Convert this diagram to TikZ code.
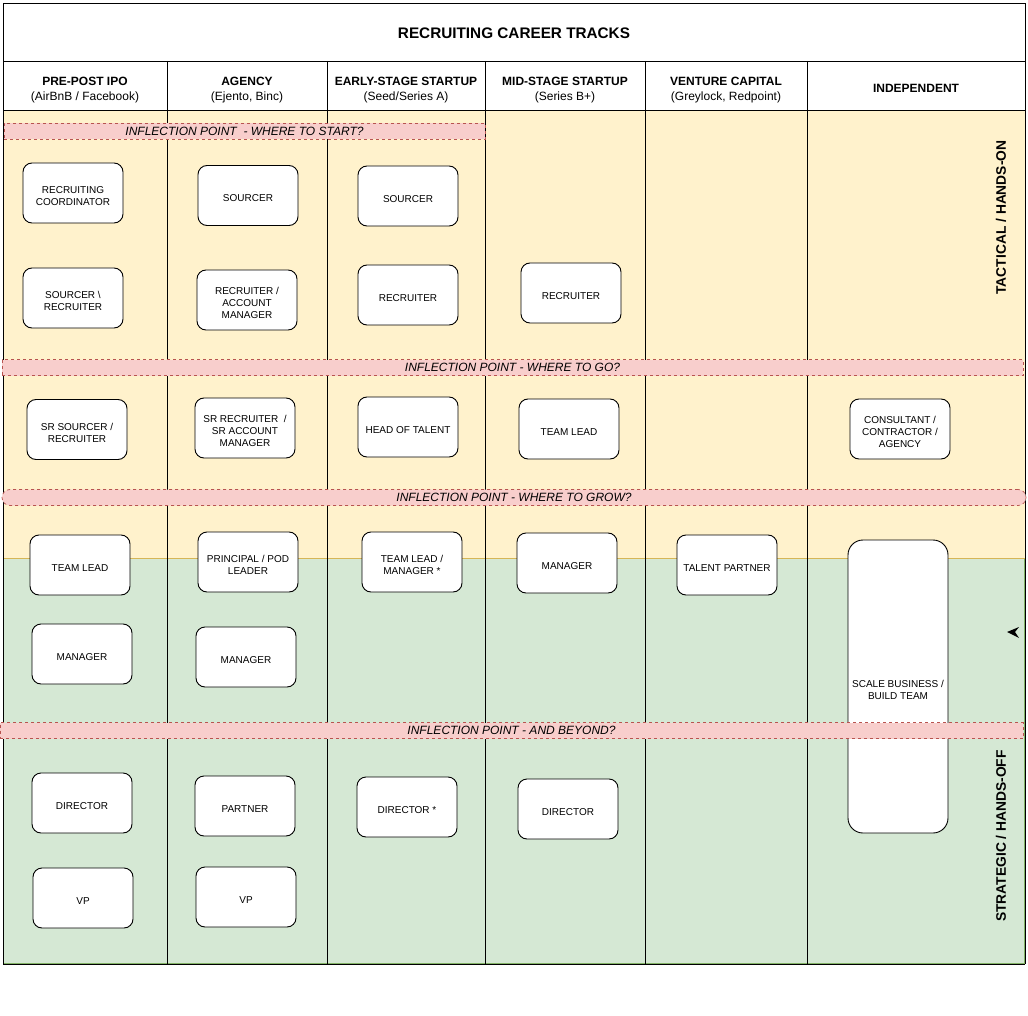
\documentclass[tikz,border=0pt]{standalone}
\usepackage{fontspec}
\setmainfont{Liberation Sans}
\definecolor{yellowfill}{HTML}{FFF2CC}
\definecolor{yellowline}{HTML}{D6B656}
\definecolor{greenfill}{HTML}{D5E8D4}
\definecolor{greenline}{HTML}{82B366}
\definecolor{pinkfill}{HTML}{F8CECC}
\definecolor{pinkline}{HTML}{B85450}
\newcommand{\topst}{\rule{0pt}{13.5pt}}
\newcommand{\botst}{\rule[-0.5pt]{0pt}{0pt}}
\begin{document}
\begin{tikzpicture}[x=1pt,y=-1pt,
  rolebox/.style={draw=black, fill=white, rounded corners=9pt, minimum width=100pt, minimum height=60pt, inner sep=0pt, align=center, font=\fontsize{10}{12}\selectfont, line width=0.9pt},
  band/.style={draw=pinkline, fill=pinkfill, dash pattern=on 3pt off 3pt, line width=0.7pt, minimum height=16pt, inner sep=0pt, font=\fontsize{12}{14}\selectfont\itshape},
  hdr/.style={align=center, font=\fontsize{12}{15}\selectfont, inner sep=0pt},
  sidelabel/.style={rotate=90, font=\fontsize{13.8}{15}\selectfont\bfseries, inner sep=0pt},
  grid/.style={draw=black, line width=0.9pt}
]
\useasboundingbox (0,0) rectangle (1028,1016);
% background regions
\fill[greenfill] (3,558) rectangle (1024,963);
\draw[greenline, line width=0.9pt] (3,558) rectangle (1024,963);
\draw[draw=yellowline, fill=yellowfill, line width=0.9pt] (3,110) rectangle (1025,558);
% table lines
\draw[grid] (3,3) rectangle (1025,61);
\draw[grid] (3,61) rectangle (1025,110);
\foreach \xx in {3,167,327,485,645,807,1025} { \draw[grid] (\xx,61) -- (\xx,964); }
\draw[grid] (3,964) -- (1025,964);
% title and headers
\node[font=\fontsize{15.3}{17}\selectfont\bfseries] (title) at (514,33.5) {RECRUITING CAREER TRACKS};
\node[hdr] (h1) at (85,90) {\textbf{PRE-POST IPO}\\(AirBnB / Facebook)};
\node[hdr] (h2) at (247,90) {\textbf{AGENCY}\\(Ejento, Binc)};
\node[hdr] (h3) at (406,90) {\textbf{EARLY-STAGE STARTUP}\\(Seed/Series A)};
\node[hdr] (h4) at (565,90) {\textbf{MID-STAGE STARTUP}\\(Series B+)};
\node[hdr] (h5) at (726,90) {\textbf{VENTURE CAPITAL}\\(Greylock, Redpoint)};
\node[hdr] (h6) at (916,88) {\textbf{INDEPENDENT}};
% side labels
\node[sidelabel] (tact) at (1001,217.5) {TACTICAL / HANDS-ON};
\node[sidelabel] (strat) at (1001,836) {STRATEGIC / HANDS-OFF};
% column 1
\node[rolebox] (rc1) at (73,193) {\topst RECRUITING\\COORDINATOR\botst};
\node[rolebox] (sr1) at (73,298) {\topst SOURCER \textbackslash\\RECRUITER\botst};
\node[rolebox] (srs1) at (77,429.5) {\topst SR SOURCER /\\RECRUITER\botst};
\node[rolebox] (tl1) at (80,565) {\topst TEAM LEAD\botst};
\node[rolebox] (mg1) at (82,654) {\topst MANAGER\botst};
\node[rolebox] (dir1) at (82,803) {\topst DIRECTOR\botst};
\node[rolebox] (vp1) at (83,898) {\topst VP\botst};
% column 2
\node[rolebox] (so2) at (248,195.5) {\topst SOURCER\botst};
\node[rolebox] (ra2) at (247,300) {\topst RECRUITER /\\ACCOUNT\\MANAGER\botst};
\node[rolebox] (sra2) at (245,428) {\topst SR RECRUITER\ \ /\\SR ACCOUNT\\MANAGER\botst};
\node[rolebox] (pp2) at (248,562) {\topst PRINCIPAL / POD\\LEADER\botst};
\node[rolebox] (mg2) at (246,657) {\topst MANAGER\botst};
\node[rolebox] (pa2) at (245,806) {\topst PARTNER\botst};
\node[rolebox] (vp2) at (246,897) {\topst VP\botst};
% column 3
\node[rolebox] (so3) at (408,196) {\topst SOURCER\botst};
\node[rolebox] (re3) at (408,295) {\topst RECRUITER\botst};
\node[rolebox] (hot3) at (408,427) {\topst HEAD OF TALENT\botst};
\node[rolebox] (tlm3) at (412,562) {\topst TEAM LEAD /\\MANAGER *\botst};
\node[rolebox] (dir3) at (407,807) {\topst DIRECTOR *\botst};
% column 4
\node[rolebox] (re4) at (571,293) {\topst RECRUITER\botst};
\node[rolebox] (tl4) at (569,429) {\topst TEAM LEAD\botst};
\node[rolebox] (mg4) at (567,563) {\topst MANAGER\botst};
\node[rolebox] (dir4) at (568,809) {\topst DIRECTOR\botst};
% column 5
\node[rolebox] (tp5) at (727,565) {\topst TALENT PARTNER\botst};
% column 6
\node[rolebox] (cca6) at (900,429) {\topst CONSULTANT /\\CONTRACTOR /\\AGENCY\botst};
\node[rolebox, minimum height=293pt, rounded corners=15pt] (sb6) at (898,686.5) {\topst SCALE BUSINESS /\\BUILD TEAM\botst};
% inflection bands
\node[band, minimum width=481pt] (b1) at (244.5,131.5) {INFLECTION POINT\ \ - WHERE TO START?};
\node[band, minimum width=1021pt] (b2) at (512.5,367.5) {INFLECTION POINT - WHERE TO GO?};
\node[band, minimum width=1024pt, rounded corners=8pt] (b3) at (514,497.5) {INFLECTION POINT - WHERE TO GROW?};
\node[band, minimum width=1023pt] (b4) at (511.5,730.5) {INFLECTION POINT - AND BEYOND?};
% stray arrowhead
\fill[black] (1007,632) -- (1019,627) -- (1015,632) -- (1019,638) -- cycle;
\end{tikzpicture}
\end{document}
